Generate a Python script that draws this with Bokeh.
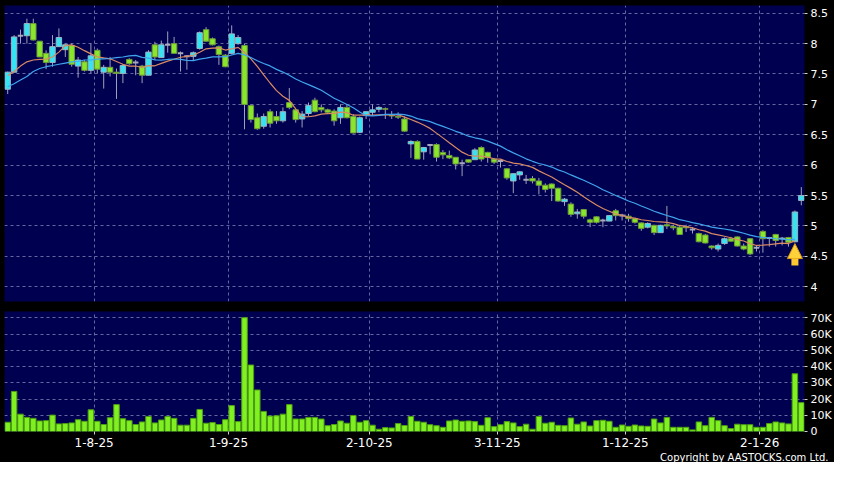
import numpy as np
import pandas as pd
from bokeh.plotting import figure
from bokeh.layouts import column
from bokeh.models import (ColumnDataSource, FixedTicker, NumeralTickFormatter,
                          Range1d, Arrow, NormalHead, Title)
from bokeh.embed import file_html
from bokeh.resources import INLINE

# ---------------- data ----------------
opens = [7.25, 7.53, 8.13, 8.13, 8.33, 8.04, 7.84, 7.69, 7.95, 7.90,
         7.97, 7.63, 7.70, 7.56, 7.89, 7.53, 7.61, 7.53, 7.51, 7.74,
         7.69, 7.63, 7.48, 7.98, 7.77, 7.98, 8.00, 7.84, 7.79, 7.79,
         7.92, 8.23, 8.08, 7.95, 7.81, 7.84, 8.00, 7.97, 6.98, 6.78,
         6.64, 6.88, 6.80, 6.73, 7.03, 6.91, 6.76, 6.85, 7.07, 6.95,
         6.91, 6.89, 6.78, 6.95, 6.80, 6.54, 6.82, 6.87, 6.92, 6.93,
         6.82, 6.80, 6.76, 6.35, 6.39, 6.22, 6.33, 6.34, 6.21, 6.16,
         6.13, 6.03, 6.09, 6.09, 6.29, 6.21, 6.10, 6.07, 5.94, 5.74,
         5.84, 5.76, 5.78, 5.74, 5.67, 5.69, 5.62, 5.40, 5.36, 5.20,
         5.27, 5.10, 5.15, 5.09, 5.08, 5.25, 5.17, 5.16, 5.12, 5.05,
         4.98, 5.01, 4.89, 5.02, 4.99, 4.98, 4.99, 4.94, 4.875, 4.85,
         4.67, 4.62, 4.71, 4.79, 4.82, 4.67, 4.79, 4.64, 4.91, 4.80,
         4.86, 4.79, 4.81, 4.74, 5.42]
highs = [7.54, 8.14, 8.23, 8.41, 8.41, 8.04, 7.89, 8.14, 8.25, 8.00,
         8.00, 7.78, 7.73, 8.00, 7.92, 7.65, 7.78, 7.59, 7.66, 7.76,
         7.73, 7.65, 7.89, 8.03, 8.05, 8.20, 8.11, 7.87, 7.81, 7.87,
         8.20, 8.27, 8.10, 7.97, 7.83, 8.30, 8.14, 8.00, 7.00, 6.85,
         6.85, 6.92, 6.89, 6.95, 7.27, 6.92, 6.89, 7.03, 7.11, 7.00,
         6.93, 6.92, 7.00, 7.00, 6.84, 6.80, 6.89, 7.00, 6.97, 6.95,
         6.89, 6.87, 6.80, 6.41, 6.41, 6.30, 6.34, 6.36, 6.25, 6.24,
         6.13, 6.09, 6.09, 6.28, 6.31, 6.22, 6.12, 6.09, 5.95, 5.87,
         5.90, 5.84, 5.82, 5.79, 5.70, 5.70, 5.63, 5.46, 5.39, 5.28,
         5.28, 5.12, 5.16, 5.12, 5.18, 5.28, 5.20, 5.20, 5.13, 5.06,
         5.06, 5.02, 5.02, 5.33, 5.02, 5.01, 5.02, 4.98, 4.89, 4.87,
         4.68, 4.71, 4.81, 4.82, 4.83, 4.71, 4.80, 4.68, 4.93, 4.82,
         4.87, 4.82, 4.82, 5.255, 5.64]
lows = [7.17, 7.53, 8.00, 8.00, 8.05, 7.78, 7.58, 7.62, 7.95, 7.78,
        7.62, 7.44, 7.54, 7.51, 7.51, 7.26, 7.46, 7.09, 7.35, 7.65,
        7.48, 7.35, 7.48, 7.73, 7.77, 7.85, 7.84, 7.54, 7.57, 7.72,
        7.90, 8.03, 7.97, 7.65, 7.61, 7.82, 7.98, 6.59, 6.70, 6.58,
        6.60, 6.62, 6.68, 6.70, 6.92, 6.70, 6.62, 6.81, 6.87, 6.87,
        6.84, 6.65, 6.68, 6.77, 6.52, 6.53, 6.76, 6.81, 6.87, 6.76,
        6.76, 6.76, 6.55, 6.12, 6.10, 6.09, 6.18, 6.06, 6.10, 6.10,
        5.93, 5.82, 6.04, 6.09, 6.06, 6.04, 6.02, 5.96, 5.76, 5.54,
        5.76, 5.69, 5.70, 5.52, 5.55, 5.41, 5.40, 5.33, 5.15, 5.12,
        5.12, 4.98, 5.04, 4.98, 5.08, 5.09, 5.09, 5.07, 5.04, 4.92,
        4.96, 4.85, 4.89, 4.95, 4.93, 4.86, 4.90, 4.875, 4.73, 4.71,
        4.61, 4.58, 4.69, 4.74, 4.66, 4.60, 4.52, 4.58, 4.56, 4.66,
        4.66, 4.68, 4.66, 4.73, 5.34]
closes = [7.53, 8.11, 8.13, 8.33, 8.06, 7.78, 7.69, 7.95, 8.10, 7.98,
          7.66, 7.73, 7.56, 7.80, 7.58, 7.61, 7.53, 7.51, 7.64, 7.67,
          7.69, 7.48, 7.86, 7.78, 7.98, 7.98, 7.84, 7.84, 7.79, 7.85,
          8.18, 8.04, 7.98, 7.82, 7.62, 8.16, 8.10, 7.00, 6.75, 6.60,
          6.80, 6.69, 6.73, 6.88, 6.95, 6.75, 6.84, 6.98, 6.88, 6.91,
          6.87, 6.73, 6.95, 6.78, 6.53, 6.78, 6.88, 6.91, 6.95, 6.92,
          6.81, 6.79, 6.56, 6.39, 6.10, 6.29, 6.33, 6.13, 6.17, 6.12,
          6.02, 6.03, 6.05, 6.25, 6.10, 6.13, 6.05, 6.07, 5.79, 5.86,
          5.89, 5.76, 5.74, 5.67, 5.60, 5.62, 5.41, 5.44, 5.19, 5.23,
          5.16, 5.06, 5.06, 5.09, 5.17, 5.17, 5.17, 5.12, 5.06, 4.96,
          5.04, 4.89, 5.01, 5.00, 4.97, 4.86, 4.97, 4.94, 4.74, 4.72,
          4.64, 4.68, 4.79, 4.75, 4.67, 4.62, 4.54, 4.64, 4.79, 4.80,
          4.76, 4.80, 4.73, 5.23, 5.50]
volumes = [5700, 24700, 10700, 8700, 8100, 6500, 6700, 10100, 4700, 4900,
           5300, 7300, 6300, 13400, 6300, 4300, 8500, 16600, 7900, 6700,
           4300, 5900, 9300, 5300, 7100, 9300, 8100, 3900, 3900, 8100,
           13600, 5100, 5500, 4300, 7300, 16000, 6100, 70200, 41000, 25600,
           12400, 9500, 9700, 10700, 16600, 7700, 7700, 8700, 8700, 7700,
           3600, 4300, 6500, 5100, 9900, 5700, 6700, 3900, 1400, 2400,
           2200, 4900, 3700, 9300, 6300,
           5700, 4200, 3600, 2600, 6500, 7100, 6300, 6500, 6100, 3800,
           8500, 3000, 4200, 6100, 5300, 3000, 4500, 1400, 9300, 5100,
           5700, 3800, 3600, 8300, 4500, 5900, 3400, 6700, 6900, 6300,
           2600, 4000, 3200, 4000, 3400, 3200, 7700, 5300, 8700, 2600,
           2600, 2600, 1000, 5900, 3600, 8700, 6700, 3600, 1800, 4500,
           4200, 4200, 2600, 2600, 4900, 5900, 5300, 4700, 35600, 17800]
# moving-average values at the start of the window (history before it not shown)
ma10_head = [7.47, 7.54, 7.63, 7.70, 7.73, 7.74, 7.745, 7.78, 7.86]
ma20_head = [7.29, 7.34, 7.40, 7.46, 7.54, 7.59, 7.62, 7.64, 7.66, 7.68,
             7.70, 7.71, 7.73, 7.73, 7.745, 7.75, 7.755, 7.77, 7.78]
# index of the first trading day of each month, and its label
month_first_idx = [14, 35, 57, 77, 97, 118]
month_labels = ["1-8-25", "1-9-25", "2-10-25", "3-11-25", "1-12-25", "2-1-26"]
price_ticks = [4, 4.5, 5, 5.5, 6, 6.5, 7, 7.5, 8, 8.5]
vol_ticks = [0, 10000, 20000, 30000, 40000, 50000, 60000, 70000]
vol_tick_labels = ["0", "10K", "20K", "30K", "40K", "50K", "60K", "70K"]
arrow_idx = 123

# ---------------- derived ----------------
n = len(closes)
idx = np.arange(n)
o = np.array(opens); h = np.array(highs); l = np.array(lows); c = np.array(closes)
ma10 = pd.Series(c).rolling(10).mean().to_numpy()
ma10[:len(ma10_head)] = ma10_head
ma20 = pd.Series(c).rolling(20).mean().to_numpy()
ma20[:len(ma20_head)] = ma20_head

up = c > o
dn = c < o
fl = c == o
top = np.maximum(o, c)
bot = np.minimum(o, c)

NAVY = "#000050"
GRID = "#6666a0"
FONT = "DejaVu Sans"
tick_pos = [i - 0.5 for i in month_first_idx]

xr = Range1d(-0.5, n - 0.5)

def style(p):
    p.background_fill_color = NAVY
    p.border_fill_color = "black"
    p.outline_line_color = None
    p.min_border_left = 4
    p.min_border_right = 26
    for g in (p.xgrid, p.ygrid):
        g.grid_line_color = GRID
        g.grid_line_dash = "3 3"
        g.grid_line_width = 1
    p.xgrid.ticker = FixedTicker(ticks=tick_pos)
    ax = p.yaxis[0]
    ax.axis_line_color = None
    ax.major_tick_line_color = "#d0d0d0"
    ax.major_tick_out = 3
    ax.major_tick_in = 0
    ax.minor_tick_line_color = None
    ax.major_label_text_color = "white"
    ax.major_label_text_font = FONT
    ax.major_label_text_font_size = "11px"
    ax.major_label_standoff = 3

# ---------------- price panel ----------------
p1 = figure(width=834, height=311, x_range=xr, y_range=Range1d(3.757, 8.627),
            x_axis_location=None, y_axis_location="right",
            toolbar_location=None, output_backend="svg", tools="")
style(p1)
p1.min_border_top = 5
p1.min_border_bottom = 10
p1.yaxis.ticker = FixedTicker(ticks=price_ticks)
p1.yaxis.formatter = NumeralTickFormatter(format="0.[0]")
p1.ygrid.ticker = FixedTicker(ticks=price_ticks)

p1.segment(x0=idx, y0=l, x1=idx, y1=h, line_color="#a0a0b8", line_width=1)
src_up = ColumnDataSource(dict(x=idx[up], top=top[up], bottom=bot[up]))
src_dn = ColumnDataSource(dict(x=idx[dn], top=top[dn], bottom=bot[dn]))
src_fl = ColumnDataSource(dict(x=idx[fl], y=o[fl]))
p1.vbar(x="x", top="top", bottom="bottom", width=0.85, source=src_up,
        fill_color="#35e3f2", line_color="#9ab4c4", line_width=1)
p1.vbar(x="x", top="top", bottom="bottom", width=0.85, source=src_dn,
        fill_color="#8ae62c", line_color="#6e9a3a", line_width=1)
p1.rect(x="x", y="y", width=0.85, height=2, height_units="screen", source=src_fl,
        fill_color="#a8a8bc", line_color=None)

m = n - 1  # averages drawn up to the previous session
p1.line(idx[:m], ma10[:m], line_color="#d98a62", line_width=1.2)
p1.line(idx[:m], ma20[:m], line_color="#3fa6ee", line_width=1.2)

arrow_len = 0.38
p1.add_layout(Arrow(end=NormalHead(size=15, fill_color="#ffd23a", line_color="#d89a10", line_width=1),
                    x_start=arrow_idx, y_start=l[arrow_idx] - arrow_len,
                    x_end=arrow_idx, y_end=l[arrow_idx] - 0.02,
                    line_color="#ffc830", line_width=7))

# ---------------- volume panel ----------------
p2 = figure(width=834, height=151, x_range=xr, y_range=Range1d(0, 74000),
            y_axis_location="right",
            toolbar_location=None, output_backend="svg", tools="")
style(p2)
p2.min_border_top = 0
p2.min_border_bottom = 0
p2.yaxis.ticker = FixedTicker(ticks=vol_ticks)
p2.yaxis.major_label_overrides = {t: s for t, s in zip(vol_ticks, vol_tick_labels)}
p2.ygrid.ticker = FixedTicker(ticks=vol_ticks[1:])
xa = p2.xaxis[0]
xa.ticker = FixedTicker(ticks=tick_pos)
xa.major_label_overrides = {t: s for t, s in zip(tick_pos, month_labels)}
xa.axis_line_color = None
xa.major_tick_line_color = "#d0d0d0"
xa.major_tick_out = 3
xa.major_tick_in = 0
xa.minor_tick_line_color = None
xa.major_label_text_color = "white"
xa.major_label_text_font = FONT
xa.major_label_text_font_size = "12px"
xa.major_label_standoff = 3

p2.vbar(x=idx, top=volumes, bottom=0, width=0.86, fill_color="#80f020",
        line_color="#4c9e12", line_width=1)

p2.add_layout(Title(text="Copyright by AASTOCKS.com Ltd.", align="right",
                    text_color="white", text_font=FONT, text_font_size="10px",
                    text_font_style="normal", standoff=0, offset=-24), "below")

layout = column(p1, p2, spacing=0, styles={"background-color": "black"})
open("out.html", "w").write(file_html(layout, INLINE))
